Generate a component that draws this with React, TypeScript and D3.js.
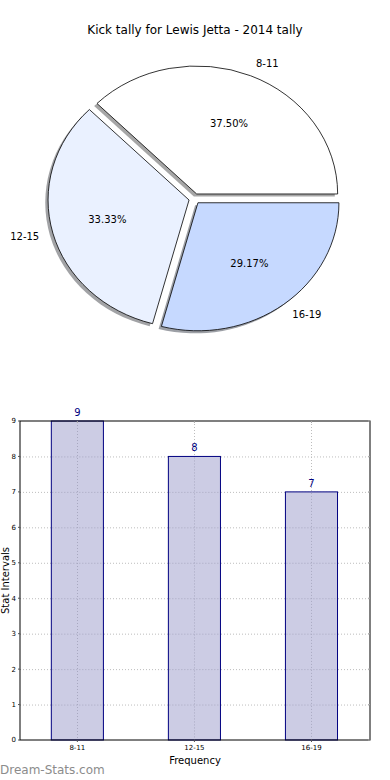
import React from "react";
import * as d3 from "d3";

const categories = ["8-11", "12-15", "16-19"];
const kicks = [9, 8, 7];
const sliceColours = ["#ffffff", "#eaf1ff", "#c6d9ff"];
const yTicks = [0, 1, 2, 3, 4, 5, 6, 7, 8, 9];

const W = 390;
const H = 780;
const FONT = "DejaVu Sans, sans-serif";

// Pie geometry (matplotlib style: starts at 3 o'clock, counter-clockwise)
const pieCx = 194.5;
const pieCy = 198.7;
const rx = 141;
const ry = 128;
const explode = 0.04;

// Bar axes box
const bar = { left: 20, right: 370, top: 421, bottom: 740 };

const App = () => {
    const total = d3.sum(kicks);

    const pie = d3
        .pie<number>()
        .sort(null)
        .startAngle(Math.PI / 2)
        .endAngle(Math.PI / 2 - 2 * Math.PI);
    const slices = pie(kicks);

    const arc = d3.arc<d3.PieArcDatum<number>>().innerRadius(0).outerRadius(1);

    // offset of each exploded wedge (unit circle, scaled to the ellipse)
    const unit = (a: number, r: number) => [Math.sin(a) * r * rx, -Math.cos(a) * r * ry];

    const xScale = d3.scaleLinear().domain([-0.49, 2.5]).range([bar.left, bar.right]);
    const yScale = d3.scaleLinear().domain([0, 9]).range([bar.bottom, bar.top]);
    const barWidth = 0.445;

    return (
        <svg
            width={W}
            height={H}
            style={{ position: "absolute", left: 0, top: 0, background: "#fff" }}
            fontFamily={FONT}
        >
            <rect width={W} height={H} fill="#fff" />

            {/* Title */}
            <text x={195} y={34} textAnchor="middle" fontSize={12} fill="#000">
                Kick tally for Lewis Jetta - 2014 tally
            </text>

            {/* Shadows first, below all wedges */}
            {slices.map((s, i) => {
                const mid = (s.startAngle + s.endAngle) / 2;
                const [ox, oy] = unit(mid, explode);
                const c = d3.rgb(sliceColours[i]);
                const shade = d3.rgb(c.r * 0.3, c.g * 0.3, c.b * 0.3);
                return (
                    <g
                        key={"sh" + i}
                        transform={`translate(${pieCx + ox - 0.02 * rx},${pieCy + oy + 0.02 * ry}) scale(${rx},${ry})`}
                    >
                        <path d={arc(s)} fill={shade.toString()} opacity={0.5} />
                    </g>
                );
            })}

            {/* Wedges */}
            {slices.map((s, i) => {
                const mid = (s.startAngle + s.endAngle) / 2;
                const [ox, oy] = unit(mid, explode);
                return (
                    <g key={"w" + i} transform={`translate(${pieCx + ox},${pieCy + oy}) scale(${rx},${ry})`}>
                        <path
                            d={arc(s)}
                            fill={sliceColours[i]}
                            stroke="#000"
                            strokeWidth={0.8}
                            vectorEffect="non-scaling-stroke"
                        />
                    </g>
                );
            })}

            {/* Labels and percentages */}
            {slices.map((s, i) => {
                const mid = (s.startAngle + s.endAngle) / 2;
                const [ox, oy] = unit(mid, explode);
                const [lx, ly] = unit(mid, 1.1);
                const [px, py] = unit(mid, 0.6);
                const cx = pieCx + ox;
                const cy = pieCy + oy;
                return (
                    <g key={"l" + i} fontSize={10} fill="#000">
                        <text
                            x={cx + lx}
                            y={cy + ly}
                            dy="0.35em"
                            textAnchor={lx >= 0 ? "start" : "end"}
                        >
                            {categories[i]}
                        </text>
                        <text x={cx + px} y={cy + py} dy="0.35em" textAnchor="middle">
                            {((kicks[i] / total) * 100).toFixed(2)}%
                        </text>
                    </g>
                );
            })}

            {/* Bar chart grid */}
            <g stroke="#bdbdbd" strokeWidth={1} strokeDasharray="1,2">
                {yTicks.slice(1, -1).map((t) => (
                    <line key={"gy" + t} x1={bar.left} x2={bar.right} y1={yScale(t) + 0.5} y2={yScale(t) + 0.5} />
                ))}
                {categories.map((c, i) => (
                    <line
                        key={"gx" + c}
                        x1={Math.round(xScale(i)) + 0.5}
                        x2={Math.round(xScale(i)) + 0.5}
                        y1={bar.top}
                        y2={bar.bottom}
                    />
                ))}
            </g>

            {/* Bars */}
            {kicks.map((v, i) => (
                <rect
                    key={"b" + i}
                    x={xScale(i - barWidth / 2)}
                    y={yScale(v)}
                    width={xScale(barWidth) - xScale(0)}
                    height={yScale(0) - yScale(v)}
                    fill="#cccce4"
                    stroke="#000080"
                    strokeWidth={1}
                />
            ))}
            {/* dotted grid is visible through the bars as well */}
            <g stroke="#a8a8c0" strokeWidth={1} strokeDasharray="1,2">
                {yTicks.slice(1, -1).map((t) =>
                    kicks.map((v, i) =>
                        v > t ? (
                            <line
                                key={`gb${t}-${i}`}
                                x1={xScale(i - barWidth / 2) + 1}
                                x2={xScale(i + barWidth / 2) - 1}
                                y1={yScale(t) + 0.5}
                                y2={yScale(t) + 0.5}
                            />
                        ) : null
                    )
                )}
                {kicks.map((v, i) => (
                    <line
                        key={"gbx" + i}
                        x1={Math.round(xScale(i)) + 0.5}
                        x2={Math.round(xScale(i)) + 0.5}
                        y1={yScale(v) + 1}
                        y2={bar.bottom}
                    />
                ))}
            </g>

            {/* Value labels */}
            {kicks.map((v, i) => (
                <text
                    key={"v" + i}
                    x={xScale(i)}
                    y={yScale(v) - 5}
                    textAnchor="middle"
                    fontSize={10}
                    fill="#000080"
                >
                    {v}
                </text>
            ))}

            {/* Axes frame */}
            <rect
                x={bar.left}
                y={bar.top}
                width={bar.right - bar.left}
                height={bar.bottom - bar.top}
                fill="none"
                stroke="#000"
                strokeWidth={1}
            />

            {/* Y ticks */}
            {yTicks.map((t) => (
                <g key={"yt" + t}>
                    <line x1={bar.left - 2} x2={bar.left} y1={yScale(t)} y2={yScale(t)} stroke="#555" />
                    <line x1={bar.right - 2} x2={bar.right} y1={yScale(t)} y2={yScale(t)} stroke="#aaa" />
                    <text x={bar.left - 4} y={yScale(t)} dy="0.35em" textAnchor="end" fontSize={7} fill="#000">
                        {t}
                    </text>
                </g>
            ))}

            {/* X ticks */}
            {categories.map((c, i) => (
                <g key={"xt" + c}>
                    <line x1={xScale(i)} x2={xScale(i)} y1={bar.top} y2={bar.top + 2} stroke="#aaa" />
                    <line x1={xScale(i)} x2={xScale(i)} y1={bar.bottom} y2={bar.bottom + 2} stroke="#555" />
                    <text x={xScale(i)} y={bar.bottom + 10} textAnchor="middle" fontSize={7} fill="#000">
                        {c}
                    </text>
                </g>
            ))}

            {/* Axis labels */}
            <text x={195} y={764} textAnchor="middle" fontSize={10} fill="#000">
                Frequency
            </text>
            <text
                transform={`translate(8.8,${(bar.top + bar.bottom) / 2}) rotate(-90)`}
                textAnchor="middle"
                fontSize={10}
                fill="#000"
            >
                Stat Intervals
            </text>

            {/* Watermark */}
            <text x={0} y={774} fontSize={12} fill="#8c8c8c">
                Dream-Stats.com
            </text>
        </svg>
    );
};

export default App;
